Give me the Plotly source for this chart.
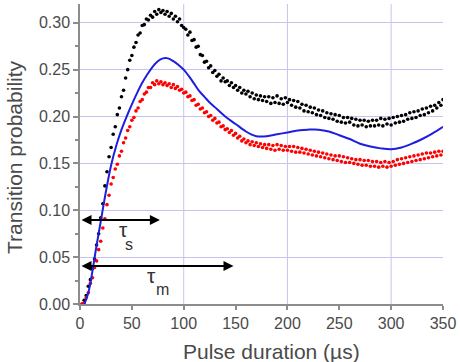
import plotly.graph_objects as go

# ---------------- data ----------------
pulse_us = list(range(2, 351, 2))  # sampling grid of the measured points

black_prob = [
    0.000, 0.004, 0.009, 0.019, 0.026, 0.038, 0.048, 0.063, 0.075, 0.092,
    0.107, 0.126, 0.141, 0.157, 0.167, 0.181, 0.189, 0.202, 0.209, 0.221,
    0.228, 0.241, 0.250, 0.260, 0.265, 0.274, 0.279, 0.287, 0.289, 0.297,
    0.298, 0.304, 0.303, 0.308, 0.306, 0.312, 0.309, 0.314, 0.311, 0.313,
    0.309, 0.312, 0.307, 0.310, 0.304, 0.307, 0.301, 0.304, 0.297, 0.295,
    0.293, 0.287, 0.290, 0.281, 0.282, 0.274, 0.275, 0.266, 0.265, 0.258,
    0.259, 0.252, 0.254, 0.247, 0.249, 0.243, 0.245, 0.238, 0.241, 0.237,
    0.238, 0.233, 0.236, 0.231, 0.233, 0.228, 0.231, 0.225, 0.228, 0.224,
    0.227, 0.221, 0.225, 0.219, 0.223, 0.218, 0.222, 0.217, 0.221, 0.216,
    0.221, 0.214, 0.220, 0.215, 0.222, 0.214, 0.219, 0.213, 0.220, 0.215,
    0.218, 0.212, 0.217, 0.210, 0.216, 0.209, 0.213, 0.206, 0.212, 0.205,
    0.210, 0.204, 0.209, 0.202, 0.207, 0.201, 0.206, 0.199, 0.204, 0.198,
    0.203, 0.197, 0.202, 0.195, 0.201, 0.194, 0.199, 0.193, 0.199, 0.194,
    0.198, 0.191, 0.197, 0.190, 0.196, 0.191, 0.196, 0.189, 0.195, 0.190,
    0.196, 0.190, 0.196, 0.191, 0.198, 0.190, 0.197, 0.192, 0.198, 0.191,
    0.199, 0.193, 0.200, 0.194, 0.201, 0.195, 0.202, 0.197, 0.204, 0.198,
    0.205, 0.199, 0.206, 0.201, 0.208, 0.202, 0.209, 0.204, 0.211, 0.206,
    0.212, 0.209, 0.215, 0.212, 0.218,
]

red_prob = [
    0.000, 0.001, 0.007, 0.012, 0.022, 0.028, 0.039, 0.046, 0.058, 0.067,
    0.081, 0.091, 0.106, 0.116, 0.128, 0.135, 0.144, 0.149, 0.158, 0.163,
    0.172, 0.177, 0.185, 0.189, 0.196, 0.199, 0.206, 0.209, 0.216, 0.218,
    0.224, 0.226, 0.231, 0.231, 0.236, 0.234, 0.238, 0.235, 0.237, 0.234,
    0.236, 0.233, 0.235, 0.231, 0.234, 0.230, 0.232, 0.228, 0.229, 0.225,
    0.226, 0.221, 0.222, 0.217, 0.218, 0.212, 0.213, 0.208, 0.209, 0.204,
    0.205, 0.200, 0.201, 0.196, 0.198, 0.193, 0.194, 0.189, 0.190, 0.186,
    0.187, 0.183, 0.185, 0.180, 0.182, 0.177, 0.179, 0.174, 0.176, 0.172,
    0.174, 0.170, 0.173, 0.169, 0.172, 0.168, 0.171, 0.167, 0.170, 0.166,
    0.170, 0.165, 0.169, 0.164, 0.170, 0.165, 0.169, 0.164, 0.168, 0.164,
    0.168, 0.163, 0.168, 0.162, 0.167, 0.162, 0.166, 0.161, 0.165, 0.160,
    0.164, 0.159, 0.163, 0.158, 0.162, 0.157, 0.161, 0.156, 0.160, 0.155,
    0.159, 0.154, 0.158, 0.153, 0.158, 0.152, 0.157, 0.151, 0.156, 0.151,
    0.155, 0.150, 0.154, 0.149, 0.154, 0.148, 0.153, 0.148, 0.153, 0.147,
    0.152, 0.147, 0.152, 0.146, 0.151, 0.147, 0.152, 0.146, 0.151, 0.147,
    0.152, 0.148, 0.154, 0.149, 0.155, 0.150, 0.156, 0.151, 0.157, 0.152,
    0.158, 0.153, 0.159, 0.154, 0.160, 0.155, 0.161, 0.156, 0.161, 0.157,
    0.162, 0.158, 0.163, 0.159, 0.163,
]

blue_x = [4, 6, 8, 10, 12, 15, 20, 25, 30, 35, 40, 45, 50, 55, 60, 65, 70, 75,
          80, 85, 90, 95, 100, 105, 110, 115, 120, 125, 130, 140, 150, 160,
          165, 170, 180, 190, 200, 210, 220, 230, 240, 250, 260, 270, 280,
          290, 300, 310, 320, 330, 340, 350]
blue_prob = [0.000, 0.005, 0.012, 0.022, 0.035, 0.056, 0.088, 0.120, 0.148,
             0.169, 0.186, 0.200, 0.213, 0.225, 0.236, 0.245, 0.253, 0.259,
             0.262, 0.262, 0.259, 0.255, 0.250, 0.243, 0.235, 0.227, 0.221,
             0.215, 0.210, 0.200, 0.192, 0.184, 0.181, 0.179, 0.179, 0.181,
             0.183, 0.185, 0.186, 0.186, 0.184, 0.180, 0.176, 0.171, 0.168,
             0.166, 0.165, 0.167, 0.171, 0.176, 0.182, 0.189]

x_ticks = [0, 50, 100, 150, 200, 250, 300, 350]
x_grid = [100, 200, 300]

# arrows: (end x, y) starting at x = 0
tau_s_end, tau_s_y = 77, 0.0897
tau_m_end, tau_m_y = 148, 0.0406

FONT = "Liberation Sans, Arial, sans-serif"
GRID = "rgb(196,196,238)"
AXIS = "#8c8c8c"
TXT = "#4a4a4a"

fig = go.Figure()
fig.add_trace(go.Scatter(x=pulse_us, y=black_prob, mode="markers",
                         marker=dict(color="black", size=3.6), showlegend=False))
fig.add_trace(go.Scatter(x=pulse_us, y=red_prob, mode="markers",
                         marker=dict(color="red", size=3.6), showlegend=False))
fig.add_trace(go.Scatter(x=blue_x, y=blue_prob, mode="lines",
                         line=dict(color="rgb(30,30,225)", width=2, shape="spline"),
                         showlegend=False))

shapes = [dict(type="line", xref="x", yref="paper", x0=g, x1=g, y0=0, y1=1,
               line=dict(color=GRID, width=1), layer="below") for g in x_grid]

ann = []
for xe, yv in [(tau_s_end, tau_s_y), (tau_m_end, tau_m_y)]:
    ann.append(dict(x=xe, y=yv, ax=0, ay=yv, xref="x", yref="y", axref="x", ayref="y",
                    text="", showarrow=True, arrowside="end+start", arrowhead=2,
                    startarrowhead=2, arrowsize=1, startarrowsize=1, arrowwidth=2,
                    arrowcolor="black"))
# tau labels
ann += [
    dict(x=41.7, y=0.080, xref="x", yref="y", text="τ", showarrow=False,
         font=dict(family=FONT, size=21, color="#333")),
    dict(x=47.3, y=0.064, xref="x", yref="y", text="s", showarrow=False,
         font=dict(family=FONT, size=16, color="#333")),
    dict(x=69.0, y=0.030, xref="x", yref="y", text="τ", showarrow=False,
         font=dict(family=FONT, size=21, color="#333")),
    dict(x=79.5, y=0.016, xref="x", yref="y", text="m", showarrow=False,
         font=dict(family=FONT, size=16, color="#333")),
    dict(x=0.528, y=-0.157, xref="paper", yref="paper", text="Pulse duration (µs)",
         showarrow=False, yanchor="middle", font=dict(family=FONT, size=21, color=TXT)),
    dict(x=-0.182, y=0.49, xref="paper", yref="paper", text="Transition probability",
         textangle=-90, showarrow=False, xanchor="center", yanchor="middle",
         font=dict(family=FONT, size=21, color=TXT)),
]

fig.update_layout(
    width=460, height=362,
    margin=dict(l=80, r=11, t=4, b=58),
    paper_bgcolor="white", plot_bgcolor="white",
    shapes=shapes, annotations=ann,
    xaxis=dict(range=[0, 350], tickvals=x_ticks, showgrid=False, zeroline=False,
               showline=True, linecolor=AXIS, linewidth=1.5,
               ticks="outside", ticklen=4, tickcolor=AXIS, tickwidth=1.5,
               ticklabeloverflow="allow",
               tickfont=dict(family=FONT, size=16, color=TXT)),
    yaxis=dict(range=[0, 0.32], dtick=0.05, tick0=0, tickformat=".2f",
               showgrid=True, gridcolor=GRID, gridwidth=1, zeroline=False,
               showline=True, linecolor=AXIS, linewidth=1.5,
               ticks="outside", ticklen=5, tickcolor=AXIS, tickwidth=1.5,
               minor=dict(dtick=0.025, ticks="outside", ticklen=3, tickcolor=AXIS),
               tickfont=dict(family=FONT, size=16, color=TXT)),
)

fig.write_html("out.html")
